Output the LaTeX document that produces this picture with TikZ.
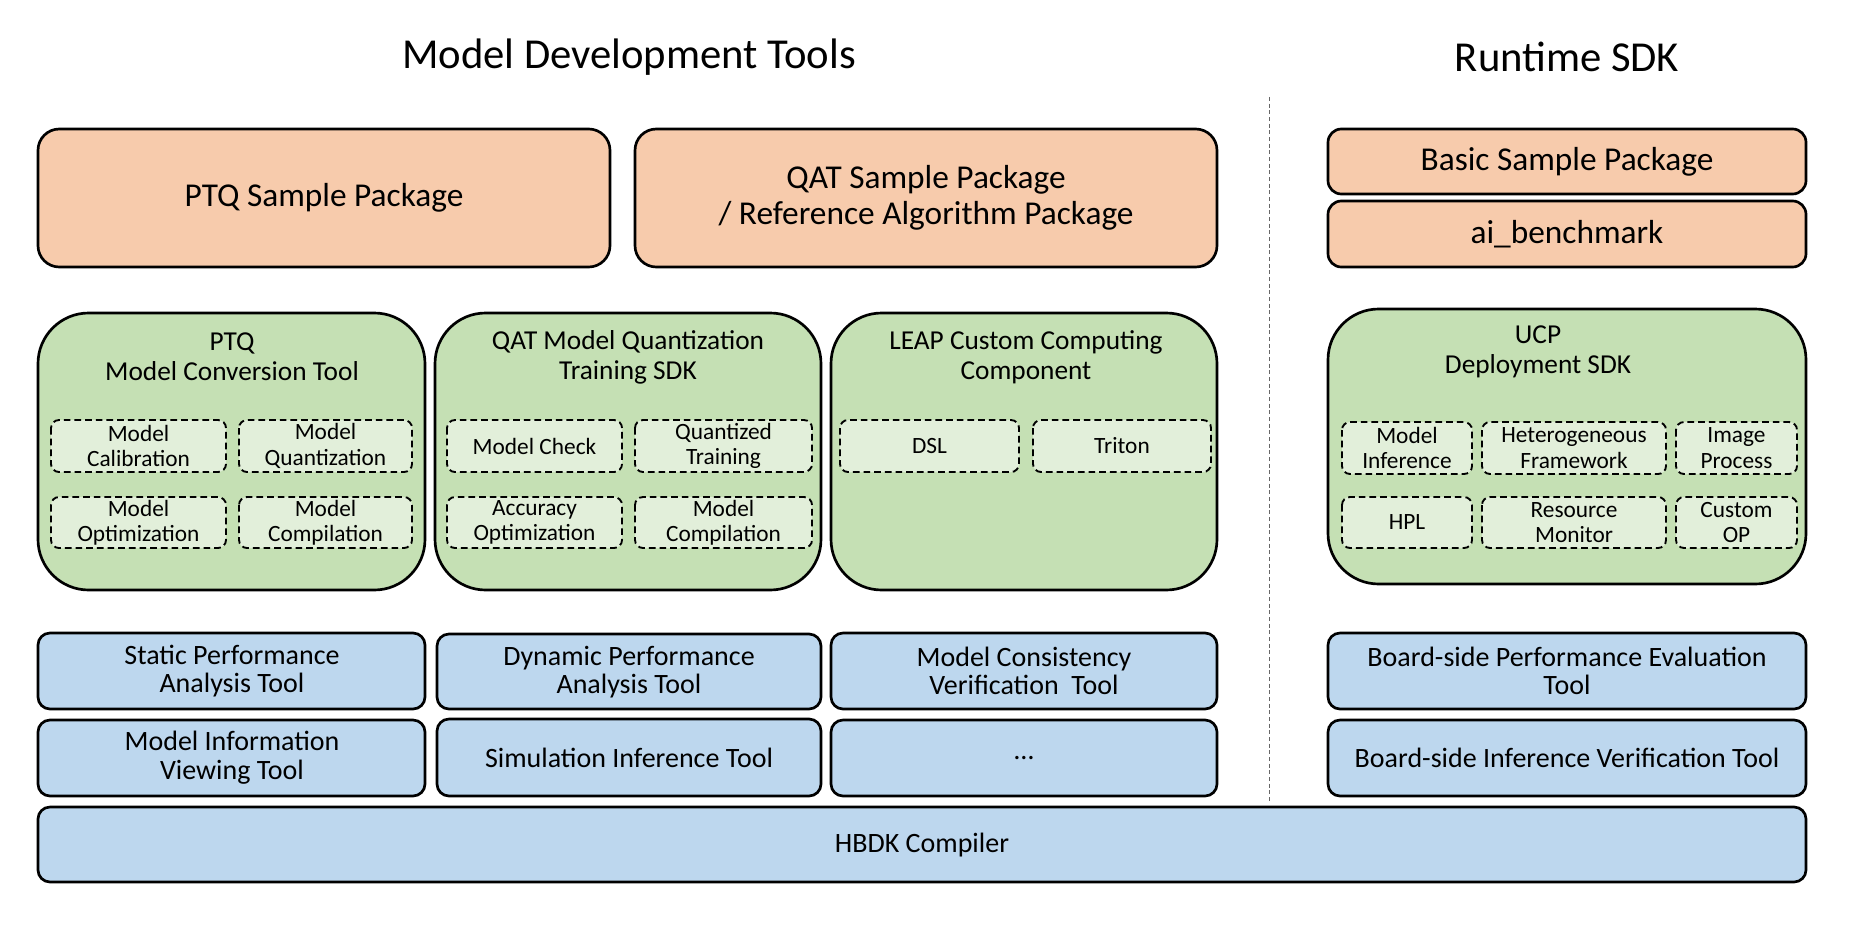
\documentclass[tikz,border=0pt]{standalone}
\usepackage{fontspec}
\setmainfont{Carlito}
\definecolor{pkgfill}{HTML}{F7CBAC}
\definecolor{sdkfill}{HTML}{C5E0B4}
\definecolor{modfill}{HTML}{E2EFDA}
\definecolor{toolfill}{HTML}{BDD7EE}
\begin{document}
\begin{tikzpicture}[x=0.75pt,y=0.75pt,yscale=-1,xscale=1,
  pkgbox/.style={draw=black,line width=2pt,fill=pkgfill,rounded corners=16pt},
  smallpkg/.style={pkgbox,rounded corners=10pt},
  sdkbox/.style={draw=black,line width=2pt,fill=sdkfill,rounded corners=38pt},
  modbox/.style={draw=black,line width=1.4pt,dashed,dash pattern=on 5pt off 3pt,fill=modfill,rounded corners=6pt},
  toolbox/.style={draw=black,line width=2pt,fill=toolfill,rounded corners=9pt},
  head/.style={inner sep=0.75pt,align=center,font=\fontsize{32}{36}\selectfont},
  pkgtxt/.style={inner sep=0.75pt,align=center,font=\fontsize{25}{27}\selectfont},
  sdktxt/.style={inner sep=0.75pt,align=center,font=\fontsize{20.5}{22.5}\selectfont},
  modtxt/.style={inner sep=0.75pt,align=center,font=\fontsize{17.5}{19}\selectfont},
  tooltxt/.style={inner sep=0.75pt,align=center,font=\fontsize{21}{21.5}\selectfont}]
\useasboundingbox (0,0) rectangle (1852,931);

% Headings
\node[head] (devtools) at (629,57) {Model Development Tools};
\node[head] (runtime) at (1567,57) {Runtime SDK};

%Straight Lines: separator
\coordinate (sepTop) at (1269,97);
\coordinate (sepBot) at (1269,802);
\draw[gray!80!black,line width=0.6pt,dash pattern=on 3pt off 2pt] (sepTop) -- (sepBot);

%Shape: Rectangle, sample packages
\draw[pkgbox] (38,129) rectangle (610,267);
\draw[pkgbox] (635,129) rectangle (1217,267);
\draw[smallpkg] (1328,129) rectangle (1806,194);
\draw[smallpkg] (1328,201) rectangle (1806,267);
% Text Node
\node[pkgtxt] (ptqpkg) at (324,198) {PTQ Sample Package};
\node[pkgtxt] (qatpkg) at (926,198) {QAT Sample Package\\ / Reference Algorithm Package};
\node[pkgtxt] (basicpkg) at (1567,162) {Basic Sample Package};
\node[pkgtxt] (aibench) at (1567,234) {ai\_benchmark};

%Shape: Rectangle, SDK blocks
\draw[sdkbox] (38,313) rectangle (425,590);
\draw[sdkbox] (435,313) rectangle (821,590);
\draw[sdkbox] (831,313) rectangle (1217,590);
\draw[sdkbox] (1328,309) rectangle (1806,584);
% Text Node
\node[sdktxt] (ptqsdk) at (232,357) {PTQ\\Model Conversion Tool};
\node[sdktxt] (qatsdk) at (628,357) {QAT Model Quantization\\Training SDK};
\node[sdktxt] (leapsdk) at (1026,357) {LEAP Custom Computing\\Component};
\node[sdktxt] (ucpsdk) at (1538,352) {UCP\\Deployment SDK};

%Shape: Rectangle, dashed modules
\draw[modbox] (51,420) rectangle (226,472);
\draw[modbox] (239,420) rectangle (412,472);
\draw[modbox] (51,497) rectangle (226,548);
\draw[modbox] (239,497) rectangle (412,548);
\draw[modbox] (447,420) rectangle (622,472);
\draw[modbox] (635,420) rectangle (812,472);
\draw[modbox] (447,497) rectangle (622,548);
\draw[modbox] (635,497) rectangle (812,548);
\draw[modbox] (840,420) rectangle (1019,472);
\draw[modbox] (1033,420) rectangle (1211,472);
\draw[modbox] (1342,422) rectangle (1472,474);
\draw[modbox] (1482,422) rectangle (1666,474);
\draw[modbox] (1676,422) rectangle (1797,474);
\draw[modbox] (1342,497) rectangle (1472,548);
\draw[modbox] (1482,497) rectangle (1666,548);
\draw[modbox] (1676,497) rectangle (1797,548);
% Text Node
\node[modtxt] (calib) at (138.5,446) {Model\\Calibration};
\node[modtxt] (quant) at (325.5,446) {Model\\Quantization};
\node[modtxt] (optim) at (138.5,522.5) {Model\\Optimization};
\node[modtxt] (compile) at (325.5,522.5) {Model\\Compilation};
\node[modtxt] (check) at (534.5,446) {Model Check};
\node[modtxt] (qtrain) at (723.5,446) {Quantized\\Training};
\node[modtxt] (accopt) at (534.5,522.5) {Accuracy\\Optimization};
\node[modtxt] (qcompile) at (723.5,522.5) {Model\\Compilation};
\node[modtxt] (dsl) at (929.5,446) {DSL};
\node[modtxt] (triton) at (1122,446) {Triton};
\node[modtxt] (infer) at (1407,448) {Model\\Inference};
\node[modtxt] (hetero) at (1574,448) {Heterogeneous\\Framework};
\node[modtxt] (imgproc) at (1736.5,448) {Image\\Process};
\node[modtxt] (hpl) at (1407,522.5) {HPL};
\node[modtxt] (resmon) at (1574,522.5) {Resource\\Monitor};
\node[modtxt] (customop) at (1736.5,522.5) {Custom\\OP};

%Shape: Rectangle, tools
\draw[toolbox] (38,633) rectangle (425,709);
\draw[toolbox] (437,634) rectangle (821,709);
\draw[toolbox] (831,633) rectangle (1217,709);
\draw[toolbox] (1328,633) rectangle (1806,709);
\draw[toolbox] (38,720) rectangle (425,796);
\draw[toolbox] (437,719) rectangle (821,796);
\draw[toolbox] (831,720) rectangle (1217,796);
\draw[toolbox] (1328,720) rectangle (1806,796);
\draw[toolbox] (38,807) rectangle (1806,882);
% Text Node
\node[tooltxt] (static) at (232,671) {Static Performance\\Analysis Tool};
\node[tooltxt] (dynamic) at (629,672) {Dynamic Performance\\Analysis Tool};
\node[tooltxt] (consist) at (1024,671) {Model Consistency\\Verification\ \ Tool};
\node[tooltxt] (boardperf) at (1567,671) {Board-side Performance Evaluation\\Tool};
\node[tooltxt] (modelinfo) at (232,758) {Model Information\\Viewing Tool};
\node[tooltxt] (siminfer) at (629,758) {Simulation Inference Tool};
\node[tooltxt] (etc) at (1024,758) {…};
\node[tooltxt] (boardinfer) at (1567,758) {Board-side Inference Verification Tool};
\node[tooltxt] (hbdk) at (922,845) {HBDK Compiler};

\end{tikzpicture}
\end{document}
